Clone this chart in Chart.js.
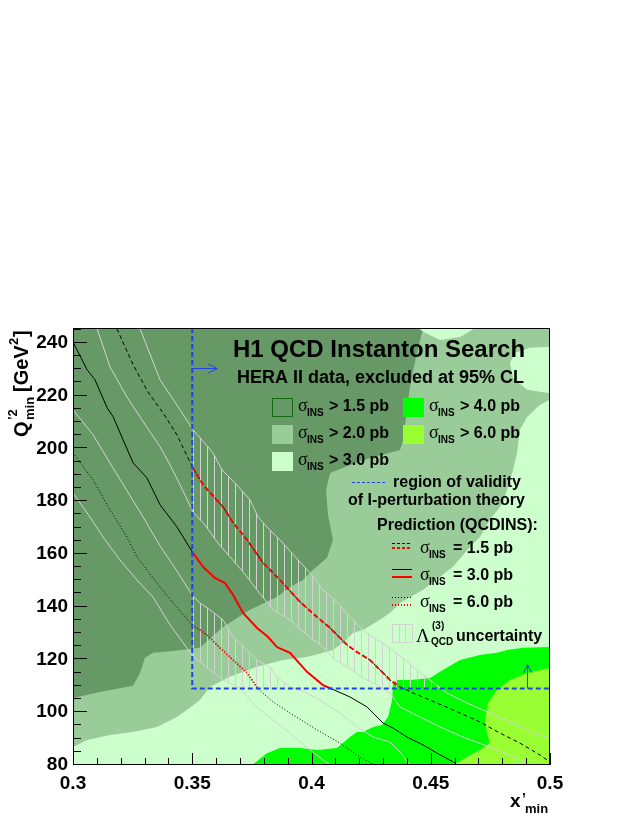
<!DOCTYPE html>
<html><head><meta charset="utf-8">
<script src="https://cdn.jsdelivr.net/npm/chart.js@4.4.1/dist/chart.umd.min.js"></script>
<style>html,body{margin:0;padding:0;background:#fff;}canvas{display:block;}</style>
</head><body>
<canvas id="c" width="643" height="832"></canvas>
<script>
// ---------- axes ----------
const xTicks = [0.30,0.31,0.32,0.33,0.34,0.35,0.36,0.37,0.38,0.39,0.40,0.41,0.42,0.43,0.44,0.45,0.46,0.47,0.48,0.49,0.50];
const xMajor = [0.3,0.35,0.4,0.45,0.5];
const xLabels = ['0.3','0.35','0.4','0.45','0.5'];
const yTicks = [80,85,90,95,100,105,110,115,120,125,130,135,140,145,150,155,160,165,170,175,180,185,190,195,200,205,210,215,220,225,230,235,240,245];
const yMajor = [80,100,120,140,160,180,200,220,240];
const yLabels = ['80','100','120','140','160','180','200','220','240'];
const xRange = [0.3,0.5];
const yRange = [80,245.6];

// ---------- excluded regions (sigma_INS thresholds in pb) ----------
const thresholds = ['1.5','2.0','3.0','4.0','6.0'];
const region15 = [[0.3,80],[0.5,80],[0.5,245.6],[0.3,245.6]];
const region20 = [[0.4468,245.6],[0.5,245.6],[0.5,80],[0.3,80],[0.3,105.4],[0.3113,107.7],[0.3252,110],[0.3281,114.9],[0.3302,120.6],[0.3335,122.5],[0.3419,123.2],[0.3532,124.4],[0.3629,132.3],[0.3742,138.8],[0.3855,143.7],[0.391,147.5],[0.3964,150.1],[0.4006,153.9],[0.4065,158.5],[0.409,165.3],[0.4069,174.8],[0.4061,184.3],[0.4078,190.7],[0.4216,195.6],[0.4371,199.4],[0.4384,203.2],[0.4413,223.3],[0.4442,236.2]];
const region30 = [[0.3,80],[0.3,86.8],[0.3059,89.5],[0.3155,91.4],[0.3252,92.5],[0.3352,94.4],[0.3436,98.2],[0.3478,100.9],[0.3532,104.6],[0.3574,109.6],[0.3658,113.4],[0.3771,117.2],[0.3881,119.8],[0.3981,120.9],[0.4048,122.5],[0.409,123.6],[0.4132,126.3],[0.4174,130],[0.4216,131.2],[0.4287,135],[0.4329,137.6],[0.4371,141.4],[0.4468,146.4],[0.4539,151.3],[0.4593,155.1],[0.4665,162.7],[0.4706,166.4],[0.4748,172.9],[0.4803,179.3],[0.4845,191.8],[0.4862,198.3],[0.4874,207],[0.4904,211.9],[0.4958,216.5],[0.5,218.4],[0.5,80]];
const region30Top = [[0.4447,245.6],[0.4476,243.8],[0.4539,241.1],[0.4623,242.2],[0.4686,245.6]];
const region30Right = [[0.5,238.5],[0.4916,238.1],[0.4853,236.2],[0.4832,232.4],[0.4845,226.7],[0.4904,222.2],[0.5,220.9]];
const region40 = [[0.3751,80],[0.3813,84.5],[0.3868,86.4],[0.3952,86.4],[0.4023,85.7],[0.4107,86.4],[0.4161,90.6],[0.4191,92.5],[0.4216,92.5],[0.4258,94.4],[0.4296,95.2],[0.4321,98.2],[0.4338,104.6],[0.4342,111.1],[0.4358,112.2],[0.4413,112.2],[0.4497,113],[0.4551,116],[0.4623,119.8],[0.4706,121.7],[0.4778,122.5],[0.482,123.6],[0.4887,124.4],[0.5,124.7],[0.5,80]];
const region60 = [[0.4593,80],[0.4652,83],[0.4706,85.7],[0.4748,88.3],[0.4736,92.1],[0.4727,97.1],[0.474,103.5],[0.4778,108.4],[0.4832,112.2],[0.4904,114.9],[0.5,116.8],[0.5,80]];

// ---------- QCDINS predictions ----------
const xsec15 = [[0.3184,245.3],[0.3252,231.7],[0.3314,221.4],[0.3377,213.5],[0.3436,205.1],[0.35,193],[0.3545,186.2],[0.3583,182.4],[0.3629,177.8],[0.3671,171.8],[0.373,165.3],[0.3797,156.6],[0.3868,150.1],[0.3952,141.8],[0.4023,136.1],[0.4078,131.9],[0.4149,125.5],[0.4191,122.8],[0.4245,119.8],[0.43,114.9],[0.4329,112.2],[0.4371,109.6],[0.4426,107.3],[0.4526,103.5],[0.4623,99.7],[0.4706,96.3],[0.479,92.1],[0.4874,88.3],[0.4958,83.8],[0.5,81.1]];
const xsec30 = [[0.3,240.3],[0.3059,229.8],[0.3092,226],[0.3143,215.4],[0.3168,212],[0.321,203.2],[0.3252,194.5],[0.331,188.8],[0.3365,178.6],[0.3436,170.2],[0.35,160.8],[0.3545,155.1],[0.3595,150.9],[0.3637,149],[0.3671,144.5],[0.3713,137.6],[0.3772,131.9],[0.3818,128.5],[0.3855,124.7],[0.391,122.5],[0.3981,115.3],[0.4048,110.3],[0.4086,108.8],[0.4161,105.8],[0.4233,102],[0.43,95.9],[0.4342,94],[0.44,90.6],[0.4468,87.6],[0.4526,84.5],[0.4602,80.8]];
const xsec60 = [[0.3,198.3],[0.3084,188.1],[0.3155,176.7],[0.3226,166.4],[0.3268,158.9],[0.331,153.9],[0.3365,147.5],[0.3419,141.4],[0.35,133.1],[0.3562,129.3],[0.3616,124.4],[0.3671,119.8],[0.373,114.9],[0.3776,108.8],[0.3839,103.9],[0.391,99.7],[0.4023,93.3],[0.4119,88.3],[0.4203,83],[0.4266,80]];

// ---------- Lambda_QCD uncertainty band edges ----------
const band15Up = [[0.3281,245.3],[0.3365,226],[0.3449,214.6],[0.3503,207],[0.3541,203.2],[0.3587,198.3],[0.3625,191.8],[0.3679,186.9],[0.3742,180.5],[0.3776,174],[0.3813,170.2],[0.3868,165.3],[0.3931,158.9],[0.3994,152.8],[0.4048,146.4],[0.4119,140.7],[0.4161,136.1],[0.4216,131.2],[0.4275,127.4],[0.4329,124.4],[0.4426,117.2],[0.4497,112.2],[0.4568,107.3],[0.4652,103.5],[0.4748,99.7],[0.4845,95.9],[0.4929,92.1],[0.5,90.2]];
const band15Low = [[0.3101,245.3],[0.3155,230.9],[0.3226,219.5],[0.3281,211.9],[0.3365,200.6],[0.3407,193.7],[0.3449,186.2],[0.3503,175.9],[0.3553,171],[0.3604,164.5],[0.3658,158.9],[0.3713,153.2],[0.3771,146.4],[0.3839,138.8],[0.391,135],[0.3981,129.3],[0.4048,124.7],[0.409,120.6],[0.4149,117.2],[0.4216,113],[0.4275,110.3],[0.4329,107.3],[0.4371,102],[0.4455,98.2],[0.4539,94.4],[0.4635,90.6],[0.4748,86.8],[0.4845,83],[0.4916,80]];
const band60Up = [[0.3,214.6],[0.3084,205.1],[0.3155,194.5],[0.3226,184],[0.3294,174],[0.3365,163],[0.3436,153.5],[0.3499,144.5],[0.3532,141.4],[0.3574,138.8],[0.3629,135],[0.3671,128.5],[0.373,123.6],[0.3771,119.8],[0.3826,117.2],[0.3855,113.4],[0.391,109.6],[0.3981,107.3],[0.4048,103.9],[0.4119,99.7],[0.4191,94.4],[0.4258,90.6],[0.4329,88.7],[0.4371,84.9],[0.4413,80]];
const band60Low = [[0.3,183.1],[0.3071,174],[0.3126,166.4],[0.3197,157.7],[0.3268,150.1],[0.3335,143.7],[0.3407,133.1],[0.3499,121.7],[0.3574,116],[0.3629,112.2],[0.37,109.2],[0.3771,102],[0.3839,97.1],[0.391,92.1],[0.3981,86.8],[0.4048,81.9],[0.4078,80]];
// where the band edges meet the validity boundary
const hatch15Ends = [[0.35,207.1],[0.4551,109],[0.4299,109],[0.35,176.2]];
const hatch60Ends = [[0.35,144.5],[0.3925,109],[0.3705,109],[0.35,121.7]];

// ---------- region of validity ----------
const validX = 0.35, validY = 109;
const validity = [[0.35,245.6],[0.35,109],[0.5,109]];
const arrowRight = [[0.35,230.5],[0.3605,230.5]];
const arrowUp = [[0.4904,109],[0.4904,118]];

// ---------- helpers ----------
const SANS = '"Liberation Sans", Arial, Helvetica, sans-serif';
const SERIF = '"Liberation Serif", "Times New Roman", serif';
const C = {d:'#669966', m:'#99cc99', l:'#ccffcc', b:'#00ff00', y:'#99ff33', gray:'#d2d2d2', blue:'#2244e0'};
const pts = a => a.map(p => ({x:p[0], y:p[1]}));
const inValid = (a, ymin) => a.filter(p => p[0] >= validX - 1e-9 && p[1] >= ymin);

const canvas = document.getElementById('c');
const ctx0 = canvas.getContext('2d');
const tile = document.createElement('canvas'); tile.width = 7; tile.height = 7;
const tg = tile.getContext('2d'); tg.strokeStyle = C.gray; tg.lineWidth = 1;
tg.beginPath(); tg.moveTo(4.5,0); tg.lineTo(4.5,7); tg.stroke();
const hatch = ctx0.createPattern(tile, 'repeat');

const hatch15 = [hatch15Ends[0], ...inValid(band15Up, validY), hatch15Ends[1], hatch15Ends[2], ...inValid(band15Low, validY).reverse(), hatch15Ends[3]];
const hatch60 = [hatch60Ends[0], ...inValid(band60Up, validY), hatch60Ends[1], hatch60Ends[2], ...inValid(band60Low, validY).reverse(), hatch60Ends[3]];

function region(data, color, order) {
  return {type:'line', data: pts(data), backgroundColor: color, borderColor:'transparent', borderWidth:0, fill:'shape', pointRadius:0, tension:0, order};
}
function curve(data, color, width, dash, order) {
  return {type:'line', data: pts(data), borderColor: color, borderWidth: width, borderDash: dash, fill:false, pointRadius:0, tension:0, order, borderCapStyle:'butt'};
}

function T(ctx, s, x, y, font, align) {
  ctx.font = font; ctx.textAlign = align || 'left'; ctx.textBaseline = 'alphabetic';
  ctx.fillStyle = '#000'; ctx.fillText(s, x, y);
}
function sigmaLabel(ctx, x, base, rest, restDx) {
  T(ctx, 'σ', x, base, '18px ' + SERIF);
  T(ctx, 'INS', x + 9, base + 5, 'bold 10px ' + SANS);
  T(ctx, rest, x + restDx, base, 'bold 16px ' + SANS);
}
function hline(ctx, x0, x1, y, color, w, dash) {
  ctx.save(); ctx.strokeStyle = color; ctx.lineWidth = w; ctx.setLineDash(dash);
  ctx.beginPath(); ctx.moveTo(x0, y); ctx.lineTo(x1, y); ctx.stroke(); ctx.restore();
}

const framePlugin = {
  id: 'frame',
  afterDatasetsDraw(chart) {
    const {ctx, chartArea: a, scales: {x, y}} = chart;
    ctx.save();
    // arrows of validity region
    ctx.strokeStyle = C.blue; ctx.lineWidth = 1; ctx.setLineDash([]);
    const ax0 = x.getPixelForValue(arrowRight[0][0]), ax1 = x.getPixelForValue(arrowRight[1][0]), ay = Math.round(y.getPixelForValue(arrowRight[0][1])) + 0.5;
    ctx.beginPath(); ctx.moveTo(ax0, ay); ctx.lineTo(ax1, ay);
    ctx.moveTo(ax1 - 9, ay - 4.5); ctx.lineTo(ax1, ay); ctx.lineTo(ax1 - 9, ay + 4.5); ctx.stroke();
    const ux = Math.round(x.getPixelForValue(arrowUp[0][0])) + 0.5, uy0 = y.getPixelForValue(arrowUp[0][1]), uy1 = y.getPixelForValue(arrowUp[1][1]);
    ctx.beginPath(); ctx.moveTo(ux, uy0); ctx.lineTo(ux, uy1);
    ctx.moveTo(ux - 4, uy1 + 8); ctx.lineTo(ux, uy1); ctx.lineTo(ux + 4, uy1 + 8); ctx.stroke();
    // ticks
    ctx.strokeStyle = '#000'; ctx.lineWidth = 1; ctx.beginPath();
    xTicks.forEach(v => {
      const px = Math.round(x.getPixelForValue(v)) + 0.5;
      const L = xMajor.some(m => Math.abs(m - v) < 1e-9) ? 12 : 7;
      ctx.moveTo(px, a.bottom); ctx.lineTo(px, a.bottom - L);
    });
    yTicks.forEach(v => {
      const py = Math.round(y.getPixelForValue(v)) - 0.5;
      const L = yMajor.includes(v) ? 14 : 8;
      ctx.moveTo(a.left, py); ctx.lineTo(a.left + L, py);
    });
    ctx.stroke();
    ctx.strokeRect(a.left + 0.5, a.top + 0.5, a.right - a.left - 1, a.bottom - a.top - 1);
    ctx.restore();
  },
  afterDraw(chart) {
    const ctx = chart.ctx;
    ctx.save();
    // title
    T(ctx, 'H1 QCD Instanton Search', 233, 357, 'bold 24px ' + SANS);
    T(ctx, 'HERA II data, excluded at 95% CL', 237, 383, 'bold 18px ' + SANS);
    // fill legend
    const boxes = [
      {bx:272, base:411, col:C.d, border:'#136a13', t:thresholds[0], tx:298},
      {bx:272, base:438, col:C.m, t:thresholds[1], tx:298},
      {bx:272, base:465, col:C.l, t:thresholds[2], tx:298},
      {bx:403, base:411, col:C.b, t:thresholds[3], tx:429},
      {bx:403, base:438, col:C.y, t:thresholds[4], tx:429}
    ];
    boxes.forEach(b => {
      ctx.fillStyle = b.col; ctx.fillRect(b.bx, b.base - 13, 21, 19);
      if (b.border) { ctx.strokeStyle = b.border; ctx.lineWidth = 1; ctx.strokeRect(b.bx + 0.5, b.base - 12.5, 20, 18); }
      sigmaLabel(ctx, b.tx, b.base, '> ' + b.t + ' pb', 31);
    });
    // validity legend
    hline(ctx, 352, 386, 482.5, C.blue, 1, [3, 2]);
    T(ctx, 'region of validity', 393, 486.5, 'bold 16px ' + SANS);
    T(ctx, 'of I-perturbation theory', 348, 505, 'bold 16px ' + SANS);
    T(ctx, 'Prediction (QCDINS):', 377, 530, 'bold 16px ' + SANS);
    // prediction legend
    hline(ctx, 392, 412, 543.5, '#000', 1, [3, 2]);
    hline(ctx, 392, 412, 548, '#ff0000', 2, [3, 2]);
    sigmaLabel(ctx, 420, 553, '= ' + thresholds[0] + ' pb', 33);
    hline(ctx, 392, 412, 569.5, '#000', 1, []);
    hline(ctx, 392, 412, 577, '#ff0000', 2, []);
    sigmaLabel(ctx, 420, 580, '= ' + thresholds[2] + ' pb', 33);
    hline(ctx, 392, 412, 597.5, '#000', 1, [1, 2]);
    hline(ctx, 392, 412, 605, '#ff0000', 2, [1, 2]);
    sigmaLabel(ctx, 420, 607, '= ' + thresholds[4] + ' pb', 33);
    // hatch legend
    ctx.strokeStyle = C.gray; ctx.lineWidth = 1; ctx.setLineDash([]);
    ctx.strokeRect(392.5, 624.5, 20, 18);
    ctx.beginPath(); ctx.moveTo(399.5, 624.5); ctx.lineTo(399.5, 642.5); ctx.moveTo(405.5, 624.5); ctx.lineTo(405.5, 642.5); ctx.stroke();
    T(ctx, 'Λ', 416, 642, '19px ' + SERIF);
    T(ctx, '(3)', 432, 629, 'bold 10px ' + SANS);
    T(ctx, 'QCD', 431, 645, 'bold 10px ' + SANS);
    T(ctx, 'uncertainty', 456, 641, 'bold 16px ' + SANS);
    // axis titles
    T(ctx, 'x', 510, 807, 'bold 19px ' + SANS);
    T(ctx, '\u2019', 522, 803, 'bold 14px ' + SANS);
    T(ctx, 'min', 525, 813, 'bold 13px ' + SANS);
    ctx.save();
    ctx.translate(28, 437); ctx.rotate(-Math.PI / 2);
    T(ctx, 'Q', 0, 0, 'bold 20px ' + SANS);
    T(ctx, '\u20192', 17, -11, 'bold 13px ' + SANS);
    T(ctx, 'min', 17, 6, 'bold 13px ' + SANS);
    T(ctx, '[GeV', 45, 0, 'bold 20px ' + SANS);
    T(ctx, '2', 92, -10, 'bold 13px ' + SANS);
    T(ctx, ']', 100, 0, 'bold 20px ' + SANS);
    ctx.restore();
    ctx.restore();
  }
};

const datasets = [
  curve(validity, C.blue, 2, [5, 3], 0),
  curve(inValid(xsec15, 108.5), '#ff0000', 2, [5, 3], 1),
  curve(inValid(xsec30, 108.5), '#ff0000', 2, [], 1),
  curve(inValid(xsec60, 108.5), '#ff0000', 2, [1, 2], 1),
  curve(xsec15, '#000', 1, [4, 3], 2),
  curve(xsec30, '#000', 1, [], 2),
  curve(xsec60, '#000', 1, [1, 2], 2),
  curve(band15Up, C.gray, 1, [], 3),
  curve(band15Low, C.gray, 1, [], 3),
  curve(band60Up, C.gray, 1, [], 3),
  curve(band60Low, C.gray, 1, [], 3),
  region(hatch15, hatch, 4),
  region(hatch60, hatch, 4),
  region(region60, C.y, 5),
  region(region40, C.b, 6),
  region(region30, C.l, 7),
  region(region30Top, C.l, 7),
  region(region30Right, C.l, 7),
  region(region20, C.m, 8),
  region(region15, C.d, 9)
];

new Chart(canvas, {
  type: 'line',
  data: {datasets},
  options: {
    responsive: false, animation: false, events: [], devicePixelRatio: 1,
    layout: {padding: {top: 328, right: 93, left: 0, bottom: 0}},
    plugins: {legend: {display: false}, tooltip: {enabled: false}, title: {display: false}},
    scales: {
      x: {
        type: 'linear', min: xRange[0], max: xRange[1],
        grid: {display: false, drawTicks: false}, border: {display: false},
        afterBuildTicks: s => { s.ticks = xTicks.map(v => ({value: v})); },
        afterFit: s => { s.height = 67; },
        ticks: {
          autoSkip: false, maxRotation: 0, minRotation: 0, padding: 7, color: '#000',
          font: {family: SANS, size: 19, weight: 'bold'},
          callback: v => { const i = xMajor.findIndex(m => Math.abs(m - v) < 1e-9); return i >= 0 ? xLabels[i] : ''; }
        }
      },
      y: {
        type: 'linear', min: yRange[0], max: yRange[1],
        grid: {display: false, drawTicks: false}, border: {display: false},
        afterBuildTicks: s => { s.ticks = yTicks.map(v => ({value: v})); },
        afterFit: s => { s.width = 73; },
        ticks: {
          autoSkip: false, padding: 5, color: '#000', includeBounds: false,
          font: {family: SANS, size: 19, weight: 'bold'},
          callback: v => { const i = yMajor.findIndex(m => Math.abs(m - v) < 1e-9); return i >= 0 ? yLabels[i] : ''; }
        }
      }
    }
  },
  plugins: [framePlugin]
});
</script>
</body></html>
